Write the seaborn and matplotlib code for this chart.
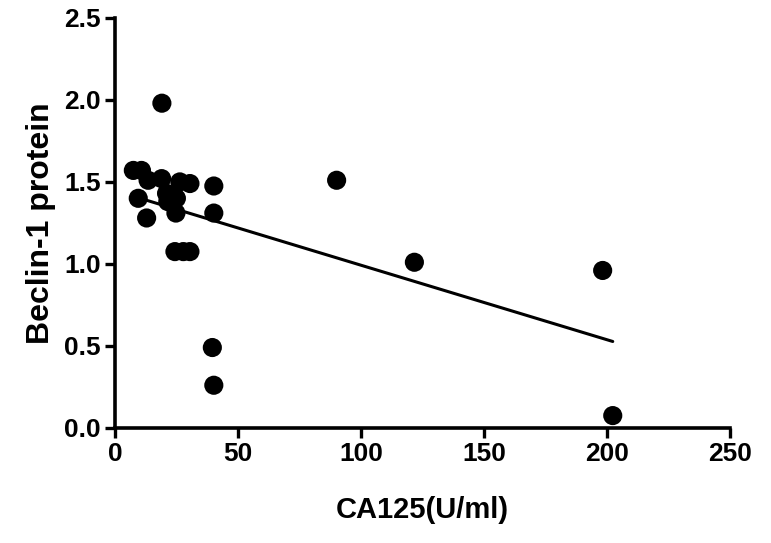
import numpy as np
import pandas as pd
import matplotlib
matplotlib.use('Agg')
import matplotlib.pyplot as plt
import seaborn as sns

# values
ca125 = [7.5, 10.8, 9.5, 12.9, 13.5, 19.0, 19.1, 21.0, 23.0, 21.5, 25.0, 24.8, 26.4,
         30.5, 24.4, 27.8, 30.5, 40.2, 40.2, 39.6, 40.2, 90.1, 121.7, 198.2, 202.3]
beclin = [1.57, 1.57, 1.40, 1.28, 1.51, 1.52, 1.98, 1.43, 1.42, 1.38, 1.40, 1.31, 1.50,
          1.49, 1.075, 1.075, 1.075, 1.475, 1.31, 0.49, 0.26, 1.51, 1.01, 0.96, 0.075]
x_ticks = [0, 50, 100, 150, 200, 250]
y_ticks = [0.0, 0.5, 1.0, 1.5, 2.0, 2.5]

df = pd.DataFrame({'CA125': ca125, 'Beclin': beclin})

sns.set_style('ticks', {'axes.edgecolor': 'black', 'text.color': 'black',
                        'xtick.color': 'black', 'ytick.color': 'black',
                        'axes.labelcolor': 'black'})
plt.rcParams['font.family'] = ['Liberation Sans', 'DejaVu Sans']
plt.rcParams['font.weight'] = 'bold'

fig = plt.figure(figsize=(7.71, 5.43), dpi=100)
ax = fig.add_axes([0.149, 0.212, 0.798, 0.755])

sns.scatterplot(data=df, x='CA125', y='Beclin', ax=ax, color='black', s=190,
                edgecolor='none', zorder=3)
sns.regplot(data=df, x='CA125', y='Beclin', ax=ax, scatter=False, ci=None,
            truncate=True, color='black', line_kws={'linewidth': 2.2})

ax.set_xlim(0, 250)
ax.set_ylim(0, 2.5)
ax.set_xticks(x_ticks)
ax.set_yticks(y_ticks)
ax.set_yticklabels([f'{t:.1f}' for t in y_ticks])
ax.tick_params(width=2.4, length=7, labelsize=19, direction='out', pad=3,
               colors='black')
for s in ['left', 'bottom']:
    ax.spines[s].set_linewidth(2.6)
sns.despine(ax=ax)

ax.set_xlabel('CA125(U/ml)', fontsize=21, fontweight='bold', labelpad=22)
ax.set_ylabel('Beclin-1 protein', fontsize=23, fontweight='bold', labelpad=6)

fig.savefig('out.png', dpi=100)
